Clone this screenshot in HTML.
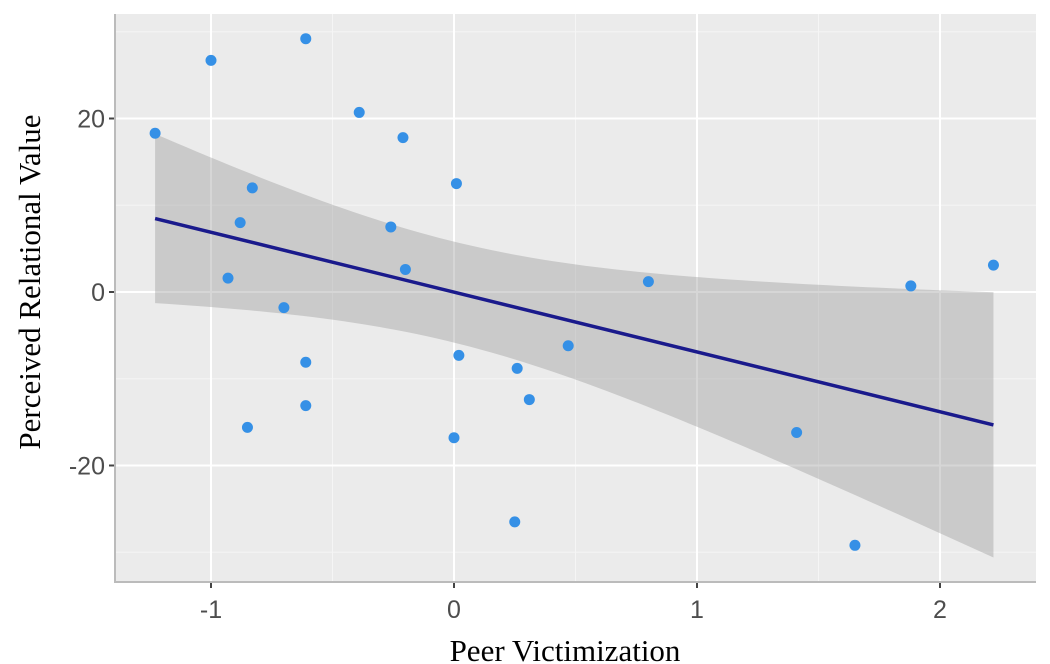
<!DOCTYPE html>
<html><head><meta charset="utf-8"><style>
body{margin:0;background:#fff;width:1050px;height:664px;overflow:hidden}
svg{display:block}
</style></head><body>
<svg id="chart" width="1050" height="664"></svg>
<script>
const xs=[-1.23,-1.00,-0.61,-0.39,-0.21,0.01,-0.83,-0.88,-0.26,-0.20,-0.93,-0.70,0.80,1.88,2.22,-0.61,0.02,0.47,0.26,-0.61,0.31,-0.85,0.00,1.41,0.25,1.65];
const ys=[18.3,26.7,29.2,20.7,17.8,12.5,12.0,8.0,7.5,2.6,1.6,-1.8,1.2,0.7,3.1,-8.1,-7.3,-6.2,-8.8,-13.1,-12.4,-15.6,-16.8,-16.2,-26.5,-29.2];
const xTicks=[-1,0,1,2];
const yTicks=[-20,0,20];
const xMinor=[-0.5,0.5,1.5];
const yMinor=[-30,-10,10,30];
const NS='http://www.w3.org/2000/svg';
const svg=document.getElementById('chart');
const L=115,R=1036,T=14,B=582;
const X=v=>454+v*243;
const Y=v=>292-v*8.675;
function el(t,a,p){const e=document.createElementNS(NS,t);for(const k in a)e.setAttribute(k,a[k]);(p||svg).appendChild(e);return e;}
const bg=el('rect',{x:L,y:T,width:R-L,height:B-T,fill:'#ebebeb'});


xMinor.forEach(v=>{const l=el('line',{x1:X(v),x2:X(v),y1:T,y2:B,stroke:'#f5f5f5','stroke-width':1});

});
yMinor.forEach(v=>{const l=el('line',{x1:L,x2:R,y1:Y(v),y2:Y(v),stroke:'#f5f5f5','stroke-width':1});

});
xTicks.forEach(v=>{const l=el('line',{x1:X(v),x2:X(v),y1:T,y2:B,stroke:'#fff','stroke-width':2});


const tk=el('line',{x1:X(v),x2:X(v),y1:B,y2:B+6,stroke:'#444','stroke-width':2});


const t=el('text',{x:X(v),y:618,'text-anchor':'middle','font-size':25,fill:'#4d4d4d','font-family':'Liberation Sans, sans-serif'});t.textContent=v;

});
yTicks.forEach(v=>{const l=el('line',{x1:L,x2:R,y1:Y(v),y2:Y(v),stroke:'#fff','stroke-width':2});


const tk=el('line',{x1:L-6,x2:L,y1:Y(v),y2:Y(v),stroke:'#444','stroke-width':2});


const t=el('text',{x:L-10,y:Y(v)+9,'text-anchor':'end','font-size':25,fill:'#4d4d4d','font-family':'Liberation Sans, sans-serif'});t.textContent=v;

});
const ax=el('path',{d:`M${L},${T}V${B}H${R}`,fill:'none',stroke:'#bbb','stroke-width':2});


const n=xs.length,mx=xs.reduce((a,b)=>a+b)/n,my=ys.reduce((a,b)=>a+b)/n;
let sxx=0,sxy=0;for(let i=0;i<n;i++){sxx+=(xs[i]-mx)**2;sxy+=(xs[i]-mx)*(ys[i]-my);}
const b1=sxy/sxx,b0=my-b1*mx;
let sse=0;for(let i=0;i<n;i++)sse+=(ys[i]-b0-b1*xs[i])**2;
const s=Math.sqrt(sse/(n-2)),tq=2.064;
const x0=Math.min(...xs),x1=Math.max(...xs);
const up=[],lo=[];
for(let k=0;k<=80;k++){const x=x0+(x1-x0)*k/80,f=b0+b1*x,h=tq*s*Math.sqrt(1/n+(x-mx)**2/sxx);up.push(`${X(x)},${Y(f+h)}`);lo.unshift(`${X(x)},${Y(f-h)}`);}
const band=el('polygon',{points:up.concat(lo).join(' '),fill:'#999','fill-opacity':0.4});


const ln=el('line',{x1:X(x0),y1:Y(b0+b1*x0),x2:X(x1),y2:Y(b0+b1*x1),stroke:'#1a1a8c','stroke-width':3.5});


for(let i=0;i<n;i++){const c=el('circle',{cx:X(xs[i]),cy:Y(ys[i]),r:5.5,fill:'#3590e6'});

}
const xt=el('text',{x:565,y:661,'text-anchor':'middle','font-size':31,fill:'#000','font-family':'Liberation Serif, serif'});xt.textContent='Peer Victimization';


const yt=el('text',{x:0,y:0,'text-anchor':'middle','font-size':31,fill:'#000','font-family':'Liberation Serif, serif',transform:'translate(40,282) rotate(-90)'});yt.textContent='Perceived Relational Value';


</script>
</body></html>
